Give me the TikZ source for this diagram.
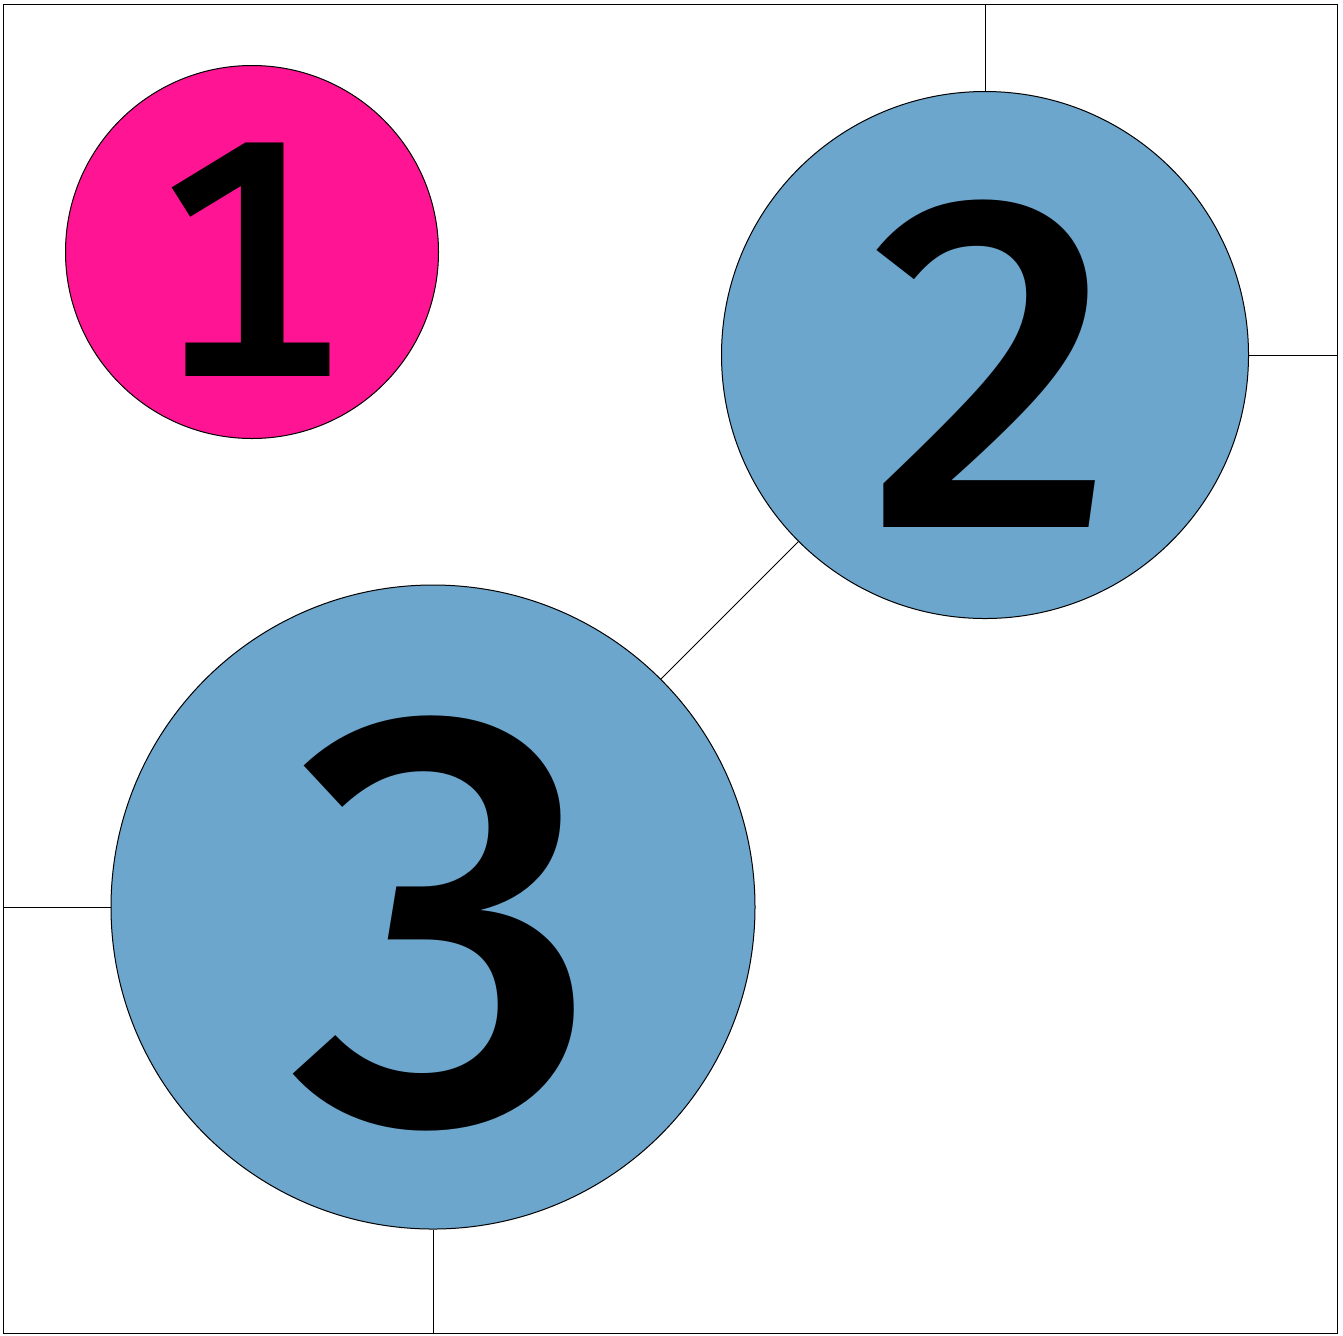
\documentclass[tikz,border=0pt]{standalone}
\usepackage{fontspec}
\newfontfamily\digitfont[Numbers=Monospaced]{Fira Sans Medium}
\definecolor{pinkc}{RGB}{255,20,147}
\definecolor{bluec}{RGB}{108,166,205}
\begin{document}
\begin{tikzpicture}[x=0.5pt,y=-0.5pt,
  ball/.style={circle,draw=black,line width=0.5pt,inner sep=0pt},
  num/.style={inner sep=0pt,text=black},
  wire/.style={draw=black,line width=0.5pt}]
\useasboundingbox (0,0) rectangle (1343,1335);
\draw[wire] (3,4) rectangle (1337,1333);
\coordinate (top) at (985,4);
\coordinate (right) at (1337,355);
\coordinate (left) at (3,907);
\coordinate (bottom) at (433,1333);
\node[ball,fill=pinkc,minimum size=373*0.5pt] (c1) at (252,252) {};
\node[ball,fill=bluec,minimum size=527*0.5pt] (c2) at (985,355) {};
\node[ball,fill=bluec,minimum size=644*0.5pt] (c3) at (433,907) {};
\node[num,font=\digitfont\fontsize{169}{169}\selectfont] (t1) at (248.5,259.5) {1};
\node[num,font=\digitfont\fontsize{232}{232}\selectfont] (t2) at (992.5,364) {2};
\node[num,font=\digitfont\fontsize{288}{288}\selectfont] (t3) at (445.5,923) {3};
\draw[wire] (c2.north) -- (top);
\draw[wire] (c2.east) -- (right);
\draw[wire] (c2) -- (c3);
\draw[wire] (c3.west) -- (left);
\draw[wire] (c3.south) -- (bottom);
\end{tikzpicture}
\end{document}
